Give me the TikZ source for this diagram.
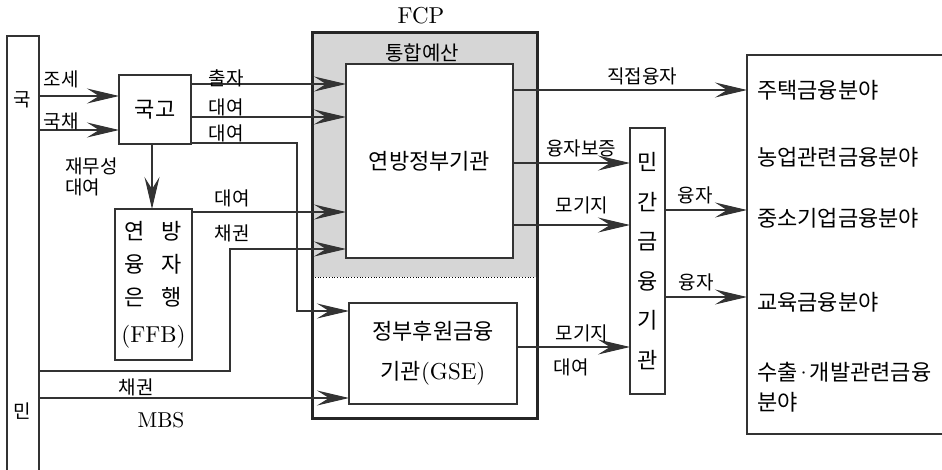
\documentclass[tikz,border=0pt]{standalone}
\usepackage{fontspec}
\newfontfamily\kr{Noto Sans CJK KR}
\newfontfamily\lmten{lmroman10-regular.otf}
\usetikzlibrary{arrows.meta}

\tikzset{
  line/.style={draw=black!80, line width=1.1pt},
  arr/.style={line, -{Stealth[length=32pt,width=15pt,inset=12pt]}},
  box/.style={draw=black!80, line width=1.1pt, fill=white, inner sep=0pt, outer sep=0pt},
  lbl/.style={font=\kr\fontsize{19}{22}\selectfont, inner sep=0pt},
  big/.style={font=\kr\fontsize{22}{26}\selectfont, inner sep=0pt},
  latin/.style={font=\lmten\fontsize{23}{26}\selectfont, inner sep=0pt},
}

\begin{document}
\begin{tikzpicture}[x=1pt,y=-1pt]
\clip (0,0) rectangle (942,469);

% FCP frame with shaded budget part
\path node[minimum width=225, minimum height=386, inner sep=0pt, outer sep=0pt] (fcp) at (424.5,225) {};
\fill[gray!32] (fcp.north west) rectangle (fcp.east |- 0,277);
\draw[dotted, line width=0.8pt] (fcp.west |- 0,277) -- (fcp.east |- 0,277);
\draw[black!85, line width=3pt] (fcp.north west) rectangle (fcp.south east);
\node[latin] (fcp-name) at (421,16) {FCP};

% boxes
\node[box, minimum width=32, minimum height=464] (people) at (23,268) {};
\node[lbl] (people-guk) at (22,100) {국};
\node[lbl] (people-min) at (22,411) {민};
\node[box, big, minimum width=72, minimum height=69] (gukgo) at (155,109.5) {국고};
\node[box, align=center, minimum width=77, minimum height=151,
      font=\kr\fontsize{22}{33}\selectfont] (ffb) at (153.5,284.5)
  {연\hspace{17pt}방\\융\hspace{17pt}자\\은\hspace{17pt}행\\[4pt]{\lmten\fontsize{23}{26}\selectfont(FFB)}};
\node[box, big, minimum width=167, minimum height=194] (fed) at (429.5,161) {연방정부기관};
\node[lbl, font=\kr\fontsize{20}{24}\selectfont] (budget) at (422,53) {통합예산};
\node[box, align=center, minimum width=168, minimum height=101,
      font=\kr\fontsize{22}{40}\selectfont] (gse) at (433,353.5)
  {정부후원금융\\기관{\lmten\fontsize{23}{26}\selectfont(GSE)}};
\node[box, align=center, minimum width=35, minimum height=266,
      font=\kr\fontsize{22}{39.5}\selectfont] (priv) at (647.5,261) {민\\간\\금\\융\\기\\관};
\node[box, minimum width=260, minimum height=379] (field) at (877,244.5) {};
\foreach \t/\y [count=\i] in {주택금융분야/90, 농업관련금융분야/157, 중소기업금융분야/218, 교육금융분야/302}
  \node[big, anchor=west] (field\i) at (757,\y) {\t};
\node[big, anchor=west, align=left, font=\kr\fontsize{22}{30}\selectfont] (field5) at (757,387)
  {수출\kern-2.5pt{\lmten·}\kern-2.5pt개발관련금융\\분야};

% arrows
\foreach \y in {96,130} \draw[arr] (people.east |- 0,\y) -- (gukgo.west |- 0,\y);
\foreach \y in {84,117} \draw[arr] (gukgo.east |- 0,\y) -- (fed.west |- 0,\y);
\draw[arr] (gukgo.east |- 0,143) -- (297,143) -- (297,311) -- (gse.west |- 0,311);
\draw[arr] (gukgo.south -| 152,0) -- (ffb.north -| 152,0);
\draw[arr] (ffb.east |- 0,212) -- (fed.west |- 0,212);
\draw[arr] (people.east |- 0,371) -- (230,371) -- (230,249) -- (fed.west |- 0,249);
\draw[arr] (people.east |- 0,398) -- (gse.west |- 0,398);
\draw[arr] (fed.east |- 0,90) -- (field.west |- 0,90);
\foreach \y in {163,225} \draw[arr] (fed.east |- 0,\y) -- (priv.west |- 0,\y);
\draw[arr] (gse.east |- 0,347) -- (priv.west |- 0,347);
\foreach \y in {210,297} \draw[arr] (priv.east |- 0,\y) -- (field.west |- 0,\y);

% labels
\node[lbl] (jose) at (61,79) {조세};
\node[lbl] (gukchae) at (61,121) {국채};
\node[lbl] (chulja) at (226,78) {출자};
\node[lbl] (daeyeo1) at (226,107) {대여};
\node[lbl] (daeyeo2) at (226,133) {대여};
\node[lbl, anchor=west, align=left, font=\kr\fontsize{19}{21}\selectfont] (jaemu) at (65,177) {재무성\\대여};
\node[lbl] (daeyeo3) at (232,198) {대여};
\node[lbl] (chaegwon1) at (232,233) {채권};
\node[lbl] (chaegwon2) at (136,387) {채권};
\node[latin, font=\lmten\fontsize{21.5}{26}\selectfont] (mbs) at (161,420) {MBS};
\node[lbl] (jikjeop) at (642,76) {직접융자};
\node[lbl] (bojeung) at (581,148) {융자보증};
\node[lbl] (mortgage1) at (582,205) {모기지};
\node[lbl] (mortgage2) at (582,333) {모기지};
\node[lbl] (daeyeo4) at (571,367) {대여};
\node[lbl] (yungja1) at (695,195) {융자};
\node[lbl] (yungja2) at (696,282) {융자};
\end{tikzpicture}
\end{document}
